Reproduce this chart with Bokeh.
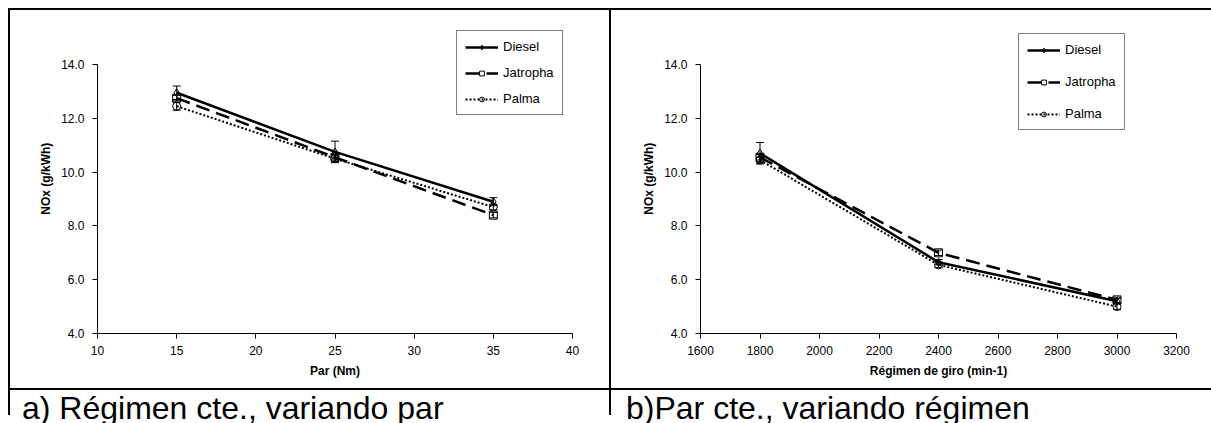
from bokeh.plotting import figure
from bokeh.models import (Div, Legend, LegendItem, ColumnDataSource, Whisker, TeeHead,
                          FixedTicker, NumeralTickFormatter, Range1d)
from bokeh.layouts import row, column
from bokeh.embed import file_html
from bokeh.resources import INLINE

# ---------------- data ----------------
series = ["Diesel", "Jatropha", "Palma"]

par = [15, 25, 35]
diesel_a = [12.95, 10.75, 8.9]
jatropha_a = [12.75, 10.55, 8.4]
palma_a = [12.45, 10.5, 8.7]
err_diesel_a = [0.25, 0.4, 0.15]
err_jatropha_a = [0.1, 0.1, 0.1]
err_palma_a = [0.15, 0.1, 0.1]

regimen = [1800, 2400, 3000]
diesel_b = [10.7, 6.65, 5.2]
jatropha_b = [10.55, 7.0, 5.25]
palma_b = [10.45, 6.55, 5.0]
err_diesel_b = [0.4, 0.1, 0.1]
err_jatropha_b = [0.1, 0.1, 0.1]
err_palma_b = [0.1, 0.1, 0.1]

y_ticks = [4, 6, 8, 10, 12, 14]
x_ticks_a = [10, 15, 20, 25, 30, 35, 40]
x_ticks_b = [1600, 1800, 2000, 2200, 2400, 2600, 2800, 3000, 3200]

caption_a = "a) Régimen cte., variando par"
caption_b = "b)Par cte., variando régimen"
xlabel_a = "Par (Nm)"
xlabel_b = "Régimen de giro (min-1)"
ylabel = "NOx  (g/kWh)"

FONT = "Liberation Sans"

styles = {
    "Diesel": dict(dash="solid", width=2.5, marker="diamond", size=8),
    "Jatropha": dict(dash="14 7", width=2.5, marker="square", size=8),
    "Palma": dict(dash="2 2", width=2, marker="circle", size=8),
}

Y_MIN, Y_MAX = 4, 14
TOP_PAD = 44  # px of empty frame above the 14.0 tick (room for the legend)


def make_fig(x, ys, errs, xr, xticks, xlabel, w, h, mb, legend_loc, spacing):
    axis_px = h - mb[2] - mb[3]          # pixel height from Y_MIN to Y_MAX
    top = Y_MAX + TOP_PAD * (Y_MAX - Y_MIN) / axis_px
    p = figure(width=w, height=h, output_backend="svg", toolbar_location=None,
               x_range=Range1d(*xr), y_range=Range1d(Y_MIN, top),
               min_border_left=mb[0], min_border_right=mb[1],
               min_border_top=mb[2] - TOP_PAD, min_border_bottom=mb[3])
    p.outline_line_color = None
    p.xgrid.visible = False
    p.ygrid.visible = False
    p.background_fill_color = "white"
    p.border_fill_color = "white"

    p.xaxis.ticker = FixedTicker(ticks=xticks)
    p.yaxis.ticker = FixedTicker(ticks=y_ticks)
    p.yaxis.formatter = NumeralTickFormatter(format="0.0")
    p.yaxis.bounds = (Y_MIN, Y_MAX)
    for ax in (p.xaxis[0], p.yaxis[0]):
        ax.axis_line_color = "black"
        ax.major_tick_line_color = "black"
        ax.minor_tick_line_color = None
        ax.major_tick_in = 0
        ax.major_tick_out = 5
        ax.major_label_text_font = FONT
        ax.major_label_text_font_size = "12px"
        ax.major_label_text_color = "black"
        ax.axis_label_text_font = FONT
        ax.axis_label_text_font_size = "12px"
        ax.axis_label_text_font_style = "bold"
        ax.axis_label_text_color = "black"
    p.xaxis.axis_label = xlabel
    p.yaxis.axis_label = ylabel
    p.xaxis.major_label_standoff = 7
    p.xaxis.axis_label_standoff = 6
    p.yaxis.major_label_standoff = 8
    p.yaxis.axis_label_standoff = 5

    items = []
    for name, y, e in zip(series, ys, errs):
        st = styles[name]
        src = ColumnDataSource(dict(x=x, y=y,
                                    upper=[a + b for a, b in zip(y, e)],
                                    lower=[a - b for a, b in zip(y, e)]))
        p.add_layout(Whisker(source=src, base="x", upper="upper", lower="lower",
                             line_color="black", line_width=1,
                             upper_head=TeeHead(size=8, line_color="black", line_width=1),
                             lower_head=TeeHead(size=8, line_color="black", line_width=1)))
        lr = p.line("x", "y", source=src, line_color="black", line_width=st["width"],
                    line_dash=st["dash"])
        sr = p.scatter("x", "y", source=src, marker=st["marker"], size=st["size"],
                       fill_color=None, line_color="black", line_width=1)
        items.append(LegendItem(label=name, renderers=[lr, sr]))

    leg = Legend(items=items, location=legend_loc)
    leg.label_text_font = FONT
    leg.label_text_font_size = "13px"
    leg.label_text_color = "black"
    leg.glyph_width = 33
    leg.glyph_height = 12
    leg.label_height = 12
    leg.label_standoff = 5
    leg.spacing = spacing
    leg.padding = 8
    leg.margin = 0
    leg.border_line_color = "black"
    leg.border_line_width = 1
    leg.background_fill_color = "white"
    leg.background_fill_alpha = 1
    p.add_layout(leg, "center")
    return p


fig_a = make_fig(par, [diesel_a, jatropha_a, palma_a],
                 [err_diesel_a, err_jatropha_a, err_palma_a],
                 (10, 40), x_ticks_a, xlabel_a, 599, 378, (87, 37, 54, 55), (359, 218), 11)
fig_b = make_fig(regimen, [diesel_b, jatropha_b, palma_b],
                 [err_diesel_b, err_jatropha_b, err_palma_b],
                 (1600, 3200), x_ticks_b, xlabel_b, 592, 378, (89, 27, 54, 55), (318, 203), 17)


def line_div(w, h):
    return Div(text="", width=w, height=h, margin=0,
               styles={"background-color": "black"})


def blank_div(w, h):
    return Div(text="", width=w, height=h, margin=0,
               styles={"background-color": "white"})


def cap_div(txt, w, pad):
    return Div(text=txt, width=w, height=25, margin=0,
               styles={"font-family": "'Liberation Sans', Arial, sans-serif",
                       "font-size": "32px", "color": "black",
                       "padding-left": f"{pad}px", "overflow": "visible",
                       "white-space": "nowrap", "line-height": "normal",
                       "box-sizing": "border-box"})


layout = column(
    line_div(1203, 2),
    row(
        line_div(2, 405),
        column(
            row(fig_a, line_div(2, 378), fig_b, blank_div(8, 378), spacing=0),
            line_div(1201, 2),
            row(cap_div(caption_a, 599, 12), line_div(2, 25), cap_div(caption_b, 592, 15),
                spacing=0),
            spacing=0,
        ),
        spacing=0,
    ),
    spacing=0,
    margin=(8, 0, 0, 8),
)

open("out.html", "w").write(file_html(layout, INLINE))
